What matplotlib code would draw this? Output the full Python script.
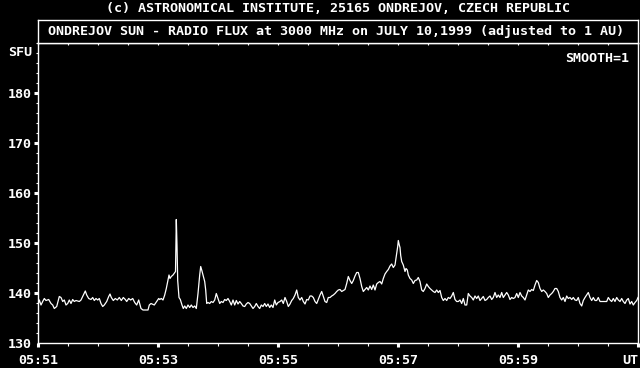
import matplotlib
matplotlib.use("Agg")
import matplotlib.pyplot as plt
from matplotlib.ticker import MultipleLocator

# seconds after 05:51:00 UT and flux in SFU
t_sec = [0, 1.3, 3, 4.7, 6.3, 8, 10.7, 13, 14.7, 16.3, 18.7, 21.3, 23, 24.7, 26.3, 28, 29.7,
         31.3, 33, 34.7, 36.3, 38, 41.3, 43, 44.7, 47.3, 48.7, 50.7, 53, 54.7, 56.3, 58, 59.7,
         61.3, 63, 64.7, 66.3, 68.7, 70.7, 72, 73.3, 75.3, 77.3, 79.3, 81.3, 83.3, 85.3, 87.3,
         88.7, 90.7, 92.7, 94.7, 96.7, 98.7, 100.7, 103, 105, 108, 110, 111.3, 113, 116.3, 118.7,
         120.7, 121.7, 123.3, 125, 126.7, 128.3, 130, 131, 132, 133.3, 135, 137.5, 138.3, 139,
         139.7, 141, 142.3, 144, 145.3, 146.7, 148.3, 150, 151.7, 153.3, 155, 156.7, 158.3, 160,
         161.7, 162.7, 163.7, 165, 166.7, 167.7, 168.7, 170, 171.7, 173.3, 175, 176.7, 178.3, 180,
         181.7, 183.3, 185, 186.7, 188.3, 190, 191.7, 193.3, 195, 196.7, 198.3, 200, 201.7, 203.3,
         205, 206.7, 208.3, 210, 211.7, 213.3, 215, 216.7, 218.3, 220, 221.7, 223.3, 225, 226.7,
         228.3, 230, 231.7, 233.3, 235, 236.7, 238.3, 240, 242, 243.7, 245.3, 247, 248.7, 250.3,
         252, 253.7, 255.3, 257, 258.7, 260.3, 262, 263.7, 265.3, 267, 268.7, 270.3, 272, 273.7,
         275.3, 277, 278.7, 280.3, 282, 283.7, 285.3, 287, 288.7, 290.3, 292, 293.7, 295.3, 297,
         298.7, 300.3, 302, 303.7, 305.3, 307, 308.7, 310.3, 312, 313.7, 315.3, 317, 318.7, 320.3,
         322, 323.7, 325.3, 327, 328.7, 330.3, 332, 333.7, 335.3, 337, 338.7, 340.3, 342, 343.7,
         345.3, 347, 348.7, 350.3, 352, 353.7, 355.3, 357, 358.7, 359.7, 360.3, 361.3, 362, 362.7,
         363.7, 365.3, 367, 368, 369.3, 370.3, 372, 373.7, 375.3, 377, 378.7, 380.3, 382, 383.7,
         385.3, 387, 388.7, 390.3, 392, 393.7, 395.3, 397, 398.7, 400.3, 402, 403.7, 405.3, 407,
         408.7, 410.3, 412, 413.7, 415.3, 417, 418.7, 420.3, 422, 423.7, 425.3, 427, 428.7, 430.3,
         432, 433.7, 435.3, 437, 438.7, 440.3, 442, 443.7, 445.3, 447, 448.7, 450.3, 452, 453.7,
         455.3, 457, 458.7, 460.3, 462, 463.7, 465.3, 467, 468.7, 470.3, 472, 473.7, 475.3, 477,
         478.7, 480.3, 482, 483.7, 485.3, 487, 488.7, 490.3, 492, 493.7, 495.3, 497, 498.7, 500.3,
         502, 503.7, 505.3, 507, 508.7, 510.3, 512, 513.7, 515.3, 517, 518.7, 520.3, 522, 523.7,
         525.3, 527, 528.7, 530.3, 532, 533.7, 535.3, 537, 538.7, 540.3, 542, 543.7, 545.3, 547,
         548.7, 550.3, 552, 553.7, 555.3, 557, 558.7, 560.3, 562, 563.7, 565.3, 567, 568.7, 570.3,
         572, 573.7, 575.3, 577, 578.7, 580.3, 582, 583.7, 585.3, 587, 588.7, 590.3, 592, 593.7,
         595.3, 597, 598.7, 600]
flux = [137.6, 138.6, 137.6, 138.3, 138.9, 138.5, 138.7, 137.9, 137.6, 136.9, 137.3, 139.3, 139.1,
        138.3, 138.6, 137.6, 137.9, 138.6, 137.9, 138.7, 138.3, 138.5, 138.3, 138.6, 139.3, 140.4,
        139.6, 138.9, 138.7, 139.1, 138.5, 138.9, 138.6, 138.9, 137.9, 137.3, 137.6, 138.3, 139.3,
        139.8, 139.1, 138.5, 138.9, 138.6, 139.1, 138.5, 139.1, 138.7, 138.3, 138.9, 138.6, 138.9,
        138.1, 137.6, 138.6, 136.9, 136.6, 136.6, 136.6, 137.6, 137.9, 137.6, 138.3, 138.9, 138.7,
        138.9, 138.6, 139.6, 140.9, 142.6, 143.6, 142.9, 143.3, 143.6, 144.3, 154.7, 149.6, 142.5,
        139.1, 138.7, 137.6, 136.9, 137.4, 136.9, 137.6, 137.1, 137.6, 137.1, 137.4, 136.9, 139.9,
        143.6, 145.3, 144.6, 143.6, 142.3, 140.6, 137.9, 138.1, 137.9, 138.3, 138.1, 138.6, 139.9,
        138.9, 137.9, 138.3, 138.1, 138.7, 138.5, 138.9, 138.3, 137.6, 138.6, 137.6, 138.5, 137.8,
        138.3, 137.9, 137.4, 137.3, 137.8, 138.1, 137.9, 137.4, 136.9, 137.3, 137.9, 137.3, 136.9,
        137.6, 137.3, 137.9, 137.3, 137.8, 137.1, 137.6, 137.1, 138.6, 137.6, 138.1, 138.3, 138.6,
        137.9, 139.1, 138.3, 137.3, 137.8, 138.5, 138.9, 139.6, 140.6, 139.1, 138.6, 139.1, 138.3,
        137.8, 138.7, 138.6, 139.4, 139.4, 139.1, 138.3, 137.9, 138.7, 139.6, 140.3, 139.3, 138.3,
        138.1, 139.1, 139.1, 139.4, 139.6, 139.9, 140.3, 140.6, 140.7, 140.3, 140.5, 140.7, 141.9,
        143.3, 142.5, 141.9, 142.5, 143.4, 144.1, 144.1, 142.9, 141.3, 140.3, 140.7, 141.1, 140.6,
        141.4, 140.7, 141.6, 140.6, 141.8, 142.1, 142.3, 141.8, 142.9, 143.8, 144.3, 144.7, 145.4,
        145.8, 145.1, 145.6, 147.9, 149.3, 150.5, 149.6, 149.1, 147.5, 146.3, 145.6, 144.3, 144.9,
        144.6, 143.6, 142.9, 142.6, 141.9, 142.5, 142.6, 143.1, 142.3, 140.6, 140.3, 140.9, 141.8,
        141.3, 140.9, 140.6, 140.3, 140.1, 140.6, 140.1, 140.5, 139.1, 138.5, 138.9, 138.5, 139.1,
        138.9, 139.4, 140.1, 138.7, 138.3, 138.3, 138.6, 137.9, 138.9, 137.6, 137.6, 139.9, 139.4,
        139.1, 138.6, 139.4, 138.9, 139.4, 138.5, 138.9, 139.3, 138.5, 138.7, 139.1, 139.4, 138.7,
        139.1, 140.1, 139.1, 139.6, 139.1, 140.1, 139.1, 139.6, 140.1, 139.6, 138.7, 139.1, 138.9,
        139.1, 139.9, 139.1, 140.1, 139.4, 139.1, 138.6, 139.6, 140.6, 140.3, 140.7, 140.5, 141.6,
        142.5, 142.1, 140.9, 140.3, 140.6, 140.3, 139.9, 139.1, 139.6, 139.9, 140.3, 140.9, 140.9,
        140.3, 139.1, 138.6, 139.1, 138.3, 139.4, 138.9, 139.1, 138.7, 139.1, 138.6, 138.5, 139.1,
        137.9, 137.4, 138.5, 139.1, 139.6, 140.1, 139.1, 138.5, 139.1, 138.5, 138.5, 139.1, 138.3,
        138.3, 138.3, 138.3, 138.3, 139.1, 138.6, 138.3, 138.9, 138.3, 139.1, 138.6, 138.3, 138.9,
        138.3, 137.9, 138.6, 138.9, 137.8, 138.3, 137.6, 138.1, 138.5, 139.1]

x_major = [0, 120, 240, 360, 480, 600]
x_labels = ["05:51", "05:53", "05:55", "05:57", "05:59", "UT"]
y_major = [130, 140, 150, 160, 170, 180]

title = "(c) ASTRONOMICAL INSTITUTE, 25165 ONDREJOV, CZECH REPUBLIC"
subtitle = "ONDREJOV SUN - RADIO FLUX at 3000 MHz on JULY 10,1999 (adjusted to 1 AU)"

plt.rcParams["font.family"] = "DejaVu Sans Mono"
plt.rcParams["font.weight"] = "bold"
plt.rcParams["font.size"] = 9.6

W, H = 640, 368
fig = plt.figure(figsize=(6.4, 3.68), dpi=100, facecolor="black")
ax = fig.add_axes([38 / W, 25 / H, 600 / W, 300 / H], facecolor="black")

ax.plot(t_sec, flux, color="white", lw=0.9)
ax.set_xlim(0, 600)
ax.set_ylim(130, 190)

for s in ax.spines.values():
    s.set_color("white")
    s.set_linewidth(1.0)

# bottom axis: every 30 s small, every 2 min thick
ax.set_xticks(x_major)
ax.set_xticklabels(x_labels, color="white")
ax.xaxis.set_minor_locator(MultipleLocator(30))
ax.tick_params(axis="x", which="major", direction="out", length=3, width=2.2,
               color="white", pad=5)
ax.tick_params(axis="x", which="minor", direction="out", length=2.2, width=0.8,
               color="white")
ax.get_xticklabels()[-1].set_horizontalalignment("right")
ax.get_xticklabels()[-1].set_x(600)

# top axis ticks pointing in
top = ax.secondary_xaxis("top")
top.set_xticks(range(0, 601, 30))
top.set_xticklabels([])
top.tick_params(direction="in", length=1.6, width=0.8, color="white")
top.spines["top"].set_visible(False)

# left axis
ax.set_yticks(y_major)
ax.set_yticklabels([str(v) for v in y_major], color="white")
ax.yaxis.set_minor_locator(MultipleLocator(2))
ax.tick_params(axis="y", which="major", direction="out", length=3, width=2.2,
               color="white", pad=1.5)
ax.tick_params(axis="y", which="minor", direction="out", length=1.5, width=0.8,
               color="white")
ax.yaxis.get_major_ticks()[0].tick1line.set_visible(False)

ax.text(-0.0095, 188, "SFU", color="white", ha="right", va="center",
        transform=ax.get_yaxis_transform())
ax.text(0.985, 0.949, "SMOOTH=1", color="white", ha="right", va="center",
        transform=ax.transAxes)

# header box
box = fig.add_axes([38 / W, (368 - 43) / H, 600 / W, 23.5 / H], facecolor="black")
box.set_xticks([])
box.set_yticks([])
for s in box.spines.values():
    s.set_color("white")
    s.set_linewidth(1.0)
box.text(0.496, 0.5, subtitle, color="white", ha="center", va="center",
         transform=box.transAxes)

fig.text(337.5 / W, 1 - 8.7 / H, title, color="white", ha="center", va="center")

fig.savefig("out.png", dpi=100, facecolor="black")
